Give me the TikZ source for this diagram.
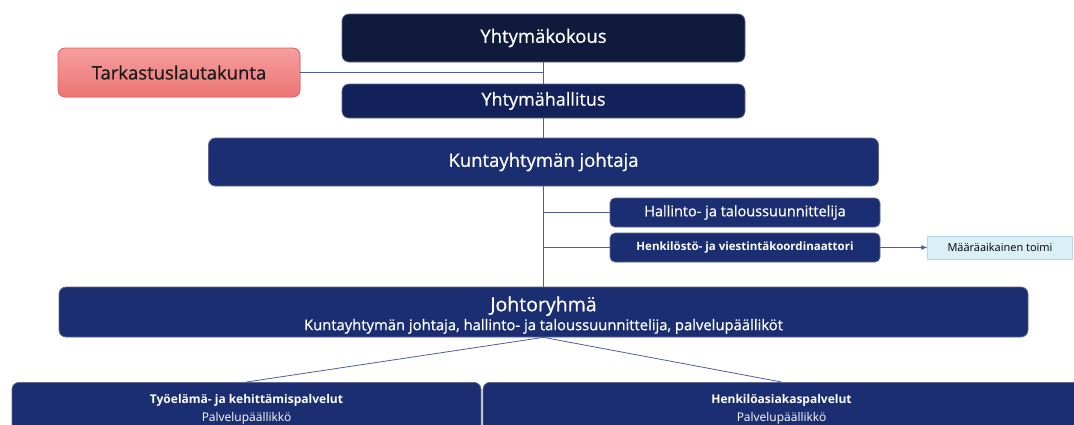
\documentclass[tikz,border=0pt]{standalone}
\usepackage{fontspec}
\setmainfont{Open Sans}
\newfontfamily\medfont{Open Sans}[FakeBold=0.6]
\usepackage{tikz}
\usepackage{xcolor}
\usetikzlibrary{positioning, arrows.meta}

\definecolor{navydark}{HTML}{0F1A3D}
\definecolor{navymid}{HTML}{13215A}
\definecolor{navy}{HTML}{1C2E72}
\definecolor{edgegray}{HTML}{5C6690}
\definecolor{linkblue}{HTML}{4F5E9A}
\definecolor{redtop}{HTML}{F59E9E}
\definecolor{redbot}{HTML}{EE7474}
\definecolor{rededge}{HTML}{E06464}
\definecolor{paleblue}{HTML}{DAEFF6}
\definecolor{paleedge}{HTML}{B3DAE6}

\begin{document}
\begin{tikzpicture}[x=1pt, y=-1pt,
        box/.style={rectangle, rounded corners=7pt, draw=edgegray, line width=0.7pt, fill=navy, text=white, inner sep=0pt, align=center},
        small/.style={box, rounded corners=5pt},
        link/.style={draw=linkblue, line width=0.8pt}]
    \clip (0,0) rectangle (1074,424);

    \node[box, fill=navydark, minimum width=403, minimum height=48, font=\medfont\fontsize{18.5}{22}\selectfont] (kokous) at (543.5, 38) {Yhtymäkokous};
    \node[box, draw=rededge, top color=redtop, bottom color=redbot, text=black!90, minimum width=242, minimum height=49, font=\medfont\fontsize{18.5}{22}\selectfont] (tarkastus) at (179, 72.5) {Tarkastuslautakunta};
    \node[box, fill=navymid, minimum width=403, minimum height=34, font=\medfont\fontsize{18}{22}\selectfont] (hallitus) at (543.5, 101) {Yhtymähallitus};
    \node[box, minimum width=670, minimum height=48, font=\medfont\fontsize{18.5}{22}\selectfont] (johtaja) at (543.5, 162) {Kuntayhtymän johtaja};
    \node[small, minimum width=270, minimum height=29, font=\medfont\fontsize{14.5}{16}\selectfont] (hallinto) at (745, 212.5) {Hallinto- ja taloussuunnittelija};
    \node[small, minimum width=270, minimum height=29, font=\bfseries\fontsize{11.5}{14}\selectfont] (henkilosto) at (745, 247.5) {Henkilöstö- ja viestintäkoordinaattori};
    \node[rectangle, draw=paleedge, fill=paleblue, minimum width=145, minimum height=23, font=\fontsize{11}{12}\selectfont] (toimi) at (1000, 247.5) {Määräaikainen toimi};
    \node[box, minimum width=969, minimum height=50] (johtoryhma) at (543.5, 312) {\medfont\fontsize{19.5}{22}\selectfont\rule{0pt}{21pt}Johtoryhmä\\[2pt] \medfont\fontsize{14.8}{16}\selectfont Kuntayhtymän johtaja, hallinto- ja taloussuunnittelija, palvelupäälliköt};
    \node[box, anchor=north, minimum width=469, inner ysep=12pt, text depth=40pt, font=\fontsize{12}{18}\selectfont] (tyoelama) at (246.5, 382) {\textbf{Työelämä- ja kehittämispalvelut}\\Palvelupäällikkö};
    \node[box, anchor=north, minimum width=597, inner ysep=12pt, text depth=40pt, font=\fontsize{12}{18}\selectfont] (henkiloasiakas) at (781.5, 382) {\textbf{Henkilöasiakaspalvelut}\\Palvelupäällikkö};

    \draw[link] (kokous) -- (hallitus);
    \draw[link] (tarkastus.east) -- (tarkastus.east -| kokous.south);
    \draw[link] (hallitus) -- (johtaja);
    \draw[link] (johtaja) -- (johtoryhma);
    \draw[link] (hallinto.west) -- (hallinto.west -| johtaja.south);
    \draw[link] (henkilosto.west) -- (henkilosto.west -| johtaja.south);
    \draw[link, -{Latex[length=6pt, width=5pt]}] (henkilosto) -- (toimi);
    \draw[link] (johtoryhma.south) -- (tyoelama.north);
    \draw[link] (johtoryhma.south) -- (henkiloasiakas.north);
\end{tikzpicture}
\end{document}
